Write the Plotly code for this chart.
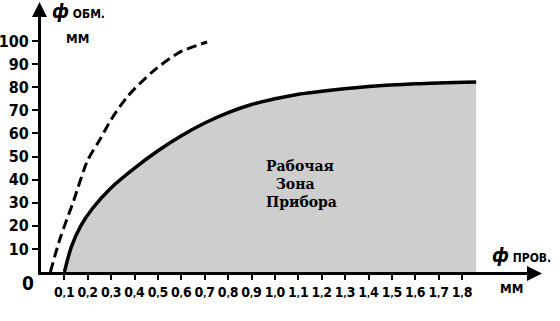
import plotly.graph_objects as go

# ---- data ----
x_ticks = [0.1, 0.2, 0.3, 0.4, 0.5, 0.6, 0.7, 0.8, 0.9, 1.0,
           1.1, 1.2, 1.3, 1.4, 1.5, 1.6, 1.7, 1.8]
x_tick_labels = ["0,1", "0,2", "0,3", "0,4", "0,5", "0,6", "0,7", "0,8", "0,9",
                 "1,0", "1,1", "1,2", "1,3", "1,4", "1,5", "1,6", "1,7", "1,8"]
y_ticks = [10, 20, 30, 40, 50, 60, 70, 80, 90, 100]
y_tick_labels = ["10", "20", "30", "40", "50", "60", "70", "80", "90", "100"]

# working zone boundary (solid curve, filled below)
zone_x = [0.1, 0.13, 0.17, 0.22, 0.3, 0.4, 0.5, 0.6, 0.7, 0.8, 0.9, 1.0, 1.1, 1.2, 1.4, 1.6, 1.86]
zone_y = [0, 11, 20, 27.5, 36.5, 45, 52.5, 59, 64.5, 69, 72.5, 75, 77, 78.3, 80.3, 81.5, 82.3]

# dashed curve
dash_x = [0.04, 0.08, 0.14, 0.2, 0.25, 0.3, 0.37, 0.48, 0.59, 0.71]
dash_y = [0, 14, 31, 48.5, 57, 66, 76, 87, 95, 99.6]

zone_text = ["Рабочая", "\u00a0\u00a0Зона", "Прибора"]

COND = "DejaVu Sans Condensed, DejaVu Sans, sans-serif"
SERIF = "DejaVu Serif, Liberation Serif, serif"

X_MAX = 2.12
Y_MAX = 115.6

fig = go.Figure()

fig.add_trace(go.Scatter(
    x=zone_x, y=zone_y, mode="lines",
    line=dict(color="black", width=3.5, shape="spline", smoothing=0.8),
    fill="tozeroy", fillcolor="#cecece", hoverinfo="skip", showlegend=False,
))
fig.add_trace(go.Scatter(
    x=dash_x, y=dash_y, mode="lines",
    line=dict(color="black", width=3, dash="10px,5px", shape="spline", smoothing=0.8),
    hoverinfo="skip", showlegend=False,
))

annotations = [
    dict(x=0.953, y=38.0, text="<b>" + "<br>".join(zone_text) + "</b>",
         showarrow=False, xanchor="left", yanchor="middle", align="left",
         font=dict(family=SERIF, size=14, color="black")),
]


# axis titles (paper coords: plot area x 41..537 px, y 5..272 px)
def px(xp):
    return (xp - 41) / 496.0


def py(yp):
    return (272 - yp) / 267.0


annotations += [
    dict(x=px(50), y=py(11), xref="paper", yref="paper",
         text="<b><i>ф</i></b><span style='font-size:12px'><b> ОБМ.</b></span>",
         showarrow=False, xanchor="left", yanchor="middle",
         font=dict(family=COND, size=19, color="black")),
    dict(x=px(64), y=py(39), xref="paper", yref="paper", text="<b>ММ</b>",
         showarrow=False, xanchor="left", yanchor="middle",
         font=dict(family=COND, size=13, color="black")),
    dict(x=px(490), y=py(255), xref="paper", yref="paper",
         text="<b><i>ф</i></b><span style='font-size:12px'><b> ПРОВ.</b></span>",
         showarrow=False, xanchor="left", yanchor="middle",
         font=dict(family=COND, size=19, color="black")),
    dict(x=px(498), y=py(288), xref="paper", yref="paper", text="<b>ММ</b>",
         showarrow=False, xanchor="left", yanchor="middle",
         font=dict(family=COND, size=13, color="black")),
    dict(x=px(28), y=py(283), xref="paper", yref="paper", text="<b>0</b>",
         showarrow=False, xanchor="center", yanchor="middle",
         font=dict(family=COND, size=19, color="black")),
    # axis arrowheads
    dict(x=px(542), y=py(273.5), xref="paper", yref="paper", ax=-14, ay=0,
         axref="pixel", ayref="pixel", showarrow=True, arrowhead=2, arrowsize=1,
         arrowwidth=3, arrowcolor="black", text="", standoff=0),
    dict(x=px(39.5), y=py(2), xref="paper", yref="paper", ax=0, ay=14,
         axref="pixel", ayref="pixel", showarrow=True, arrowhead=2, arrowsize=1,
         arrowwidth=3, arrowcolor="black", text="", standoff=0),
]


def fmt_x(label):
    a, b = label.split(",")
    return "<b>%s<span style='font-size:9px'>,</span>%s</b>" % (a, b)


fig.update_layout(
    width=560, height=321,
    margin=dict(l=41, r=23, t=5, b=49, autoexpand=False),
    paper_bgcolor="white", plot_bgcolor="white",
    showlegend=False,
    annotations=annotations,
    xaxis=dict(range=[0, X_MAX], showgrid=False, zeroline=False, automargin=False,
               showline=True, linecolor="black", linewidth=3,
               tickmode="array", tickvals=x_ticks,
               ticktext=[fmt_x(t) for t in x_tick_labels], tickangle=0,
               ticks="outside", ticklen=5, tickwidth=2, tickcolor="black",
               tickfont=dict(family=COND, size=14, color="black")),
    yaxis=dict(range=[0, Y_MAX], showgrid=False, zeroline=False, automargin=False,
               showline=True, linecolor="black", linewidth=3,
               tickmode="array", tickvals=y_ticks,
               ticktext=["<b>%s</b>" % t for t in y_tick_labels],
               ticks="outside", ticklen=6, tickwidth=2, tickcolor="black",
               tickfont=dict(family=COND, size=16, color="black")),
)

fig.write_html("out.html")
